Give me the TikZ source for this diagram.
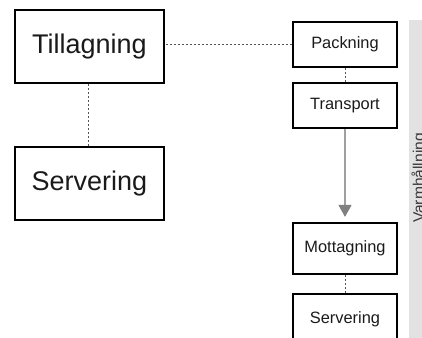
\documentclass[tikz,border=0pt]{standalone}
\usepackage{fontspec}
\setmainfont{Liberation Sans}
\usetikzlibrary{arrows.meta}
\definecolor{txt}{HTML}{1A1A1A}
\definecolor{dotc}{HTML}{555555}
\definecolor{vtxt}{HTML}{3A3A3A}
\definecolor{band}{HTML}{E2E2E2}
\definecolor{arr}{HTML}{A0A0A0}
\definecolor{arrh}{HTML}{808080}
\tikzset{
  bigbox/.style={draw=black, line width=2pt, minimum width=149pt, minimum height=73pt, inner sep=0pt, text=txt, font=\fontsize{27pt}{30pt}\selectfont},
  smallbox/.style={draw=black, line width=2.2pt, minimum width=104pt, minimum height=45pt, inner sep=0pt, text=txt, font=\fontsize{16.4pt}{19pt}\selectfont},
  dotline/.style={draw=dotc, line width=1pt, dash pattern=on 2pt off 2pt},
  flow/.style={draw=arr, line width=1.3pt, -{Triangle[length=12pt,width=13pt,color=arrh]}}
}
\begin{document}
\begin{tikzpicture}[x=1pt,y=-1pt]
\useasboundingbox (0,0) rectangle (422,337);
\begin{scope}
\clip (0,0) rectangle (422,337);
\fill[band] (409,20) rectangle (430,345);
\node[rotate=90, anchor=base, text=vtxt, font=\fontsize{15.6pt}{18pt}\selectfont] (vh) at (424,178) {Varmhållning};
\node[bigbox] (till) at (89.5,46.5) {Tillagning};
\node[bigbox] (serv1) at (89.5,183.5) {Servering};
\node[smallbox] (pack) at (345,44.5) {Packning};
\node[smallbox] (trans) at (345,105.5) {Transport};
\node[smallbox, minimum height=51pt] (mott) at (345,248.5) {Mottagning};
\node[smallbox, minimum height=51pt] (serv2) at (345,319.5) {Servering};
\draw[dotline] (till.south -| 88,0) -- (serv1.north -| 88,0);
\draw[dotline] (pack.west) -- (pack.west -| till.east);
\draw[dotline] (pack.south) -- (trans.north);
\draw[dotline] (mott.south) -- (serv2.north);
\draw[flow] (trans.south) -- ([yshift=5pt]mott.north);
\end{scope}
\end{tikzpicture}
\end{document}
